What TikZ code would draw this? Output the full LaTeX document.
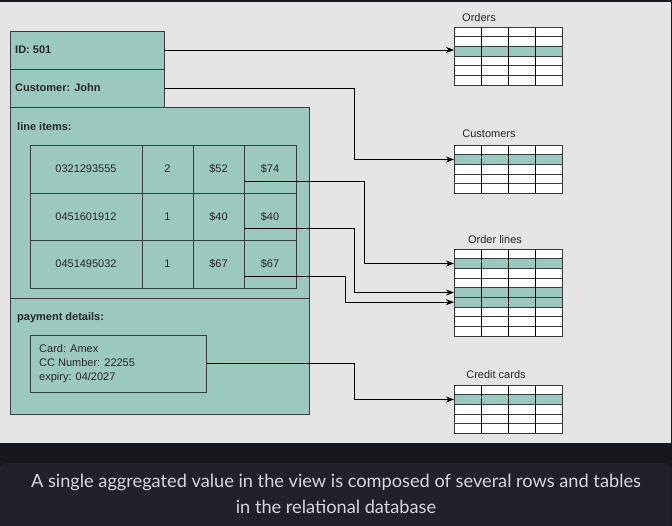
\documentclass[tikz,border=0pt]{standalone}
\usepackage{fontspec}
\setmainfont{Liberation Sans}
\newfontfamily\capfont{Lato}
\usetikzlibrary{arrows.meta,calc}
\definecolor{teal1}{HTML}{9BC8BF}
\definecolor{edge}{HTML}{3A3A3A}
\definecolor{bggray}{HTML}{E5E5E5}
\definecolor{darkband}{HTML}{17181E}
\definecolor{capbox}{HTML}{20212A}
\definecolor{captxt}{HTML}{D6D7DE}
\tikzset{
  box/.style={draw=edge, fill=teal1, line width=0.9pt, inner sep=0pt, outer sep=0pt},
  cell/.style={draw=edge, fill=teal1, line width=0.9pt, inner sep=0pt, outer sep=0pt, font=\fontsize{11}{12}\selectfont, text=black!85},
  conn/.style={draw=black, line width=0.8pt},
  arr/.style={conn, -{Stealth[length=8pt,width=6pt,inset=2.5pt]}},
  tlabel/.style={font=\fontsize{11}{12}\selectfont, text=black!85, inner sep=0pt},
  blabel/.style={font=\bfseries\fontsize{11}{12}\selectfont, text=black!85, inner sep=0pt, anchor=west},
}
% \dbtable{name}{top y}{rows}{highlighted rows}
\newcommand{\dbtable}[4]{%
  \pgfmathsetmacro{\rh}{9.67}
  \node[draw=edge, fill=white, line width=0.9pt, inner sep=0pt, outer sep=0pt,
        minimum width=108pt, minimum height={#3*9.67pt}, anchor=north west] (#1) at (454,#2) {};
  \foreach \r in {#4} {
    \fill[teal1] (454,{#2+(\r-1)*\rh}) rectangle (562,{#2+\r*\rh});
  }
  \foreach \r in {1,...,#3} {
    \coordinate (#1-r\r) at (454,{#2+(\r-0.5)*\rh});
  }
  \foreach \r in {2,...,#3} {
    \draw[edge, line width=0.8pt] (454,{#2+(\r-1)*\rh}) -- (562,{#2+(\r-1)*\rh});
  }
  \foreach \cx in {481,508,535} {
    \draw[black, line width=0.8pt] (\cx,#2) -- (\cx,{#2+#3*\rh});
  }
  \draw[edge, line width=0.9pt] (454,#2) rectangle (562,{#2+#3*\rh});
}
\begin{document}
\begin{tikzpicture}[x=1pt,y=-1pt]
\useasboundingbox (0,0) rectangle (672,526);
% backgrounds
\fill[darkband] (0,0) rectangle (672,526);
\fill[bggray] (0,2) rectangle (671,443);
\fill[capbox, rounded corners=6pt] (0,463) rectangle (671,534);
\node[font=\capfont\fontsize{18.2}{26}\selectfont, text=captxt, align=center] (cap) at (336,494)
  {A single aggregated value in the view is composed of several rows and tables\\in the relational database};

% left structure
\node[box, minimum width=154pt, minimum height=38pt, anchor=north west] (id) at (10,31) {};
\node[blabel] (idt) at (15,50) {ID: 501};
\node[box, minimum width=154pt, minimum height=38pt, anchor=north west] (cust) at (10,69) {};
\node[blabel] (custt) at (15,88) {Customer: John};
\node[box, minimum width=299pt, minimum height=191pt, anchor=north west] (items) at (10,107) {};
\node[blabel] (itemst) at (17,127) {line items:};
\node[box, minimum width=299pt, minimum height=116pt, anchor=north west] (pay) at (10,298) {};
\node[blabel] (payt) at (17,318) {payment details:};

% inner table of line items
\def\colx{{30,142,193,244,296}}
\def\rowy{{145,193,240,288}}
\foreach \r/\a/\b/\c/\d in {1/0321293555/2/\$52/\$74, 2/0451601912/1/\$40/\$40, 3/0451495032/1/\$67/\$67} {
  \foreach \cc/\txt in {1/\a,2/\b,3/\c,4/\d} {
    \pgfmathsetmacro{\xa}{\colx[\cc-1]}
    \pgfmathsetmacro{\xb}{\colx[\cc]}
    \pgfmathsetmacro{\ya}{\rowy[\r-1]}
    \pgfmathsetmacro{\yb}{\rowy[\r]}
    \node[cell, minimum width={(\xb-\xa)*1pt}, minimum height={(\yb-\ya)*1pt}, anchor=north west]
      (c\r\cc) at (\xa,\ya) {\txt};
  }
}

% card details
\node[box, minimum width=176pt, minimum height=57pt, anchor=north west] (card) at (30,335) {};
\node[tlabel, anchor=north west, align=left, font=\fontsize{11}{14}\selectfont] (cardt) at (39,344)
  {Card: Amex\\CC Number: 22255\\expiry: 04/2027};

% relational tables
\dbtable{orders}{27}{6}{3}
\node[tlabel] (ordl) at (479,18) {Orders};
\dbtable{customers}{145}{5}{2}
\node[tlabel] (cusl) at (489,134) {Customers};
\dbtable{olines}{249}{9}{2,5,6}
\node[tlabel] (oll) at (495,240) {Order lines};
\dbtable{ccards}{385}{5}{2}
\node[tlabel] (ccl) at (496,375) {Credit cards};

% connectors
\coordinate (s1) at ($(c14.south west)!0.25!(c14.north west)$);
\coordinate (s2) at ($(c24.south west)!0.25!(c24.north west)$);
\coordinate (s3) at ($(c34.south west)!0.25!(c34.north west)$);
\draw[arr] (id.east) -- (id.east -| orders.west);
\draw[arr] (cust.east) -- ++(190,0) |- (customers-r2);
\draw[arr] (s1) -- ++(120,0) |- (olines-r2);
\draw[arr] (s2) -- ++(110,0) |- (olines-r5);
\draw[arr] (s3) -- ++(101,0) |- (olines-r6);
\draw[arr] (card.east) -- ++(148,0) |- (ccards-r2);
\end{tikzpicture}
\end{document}
